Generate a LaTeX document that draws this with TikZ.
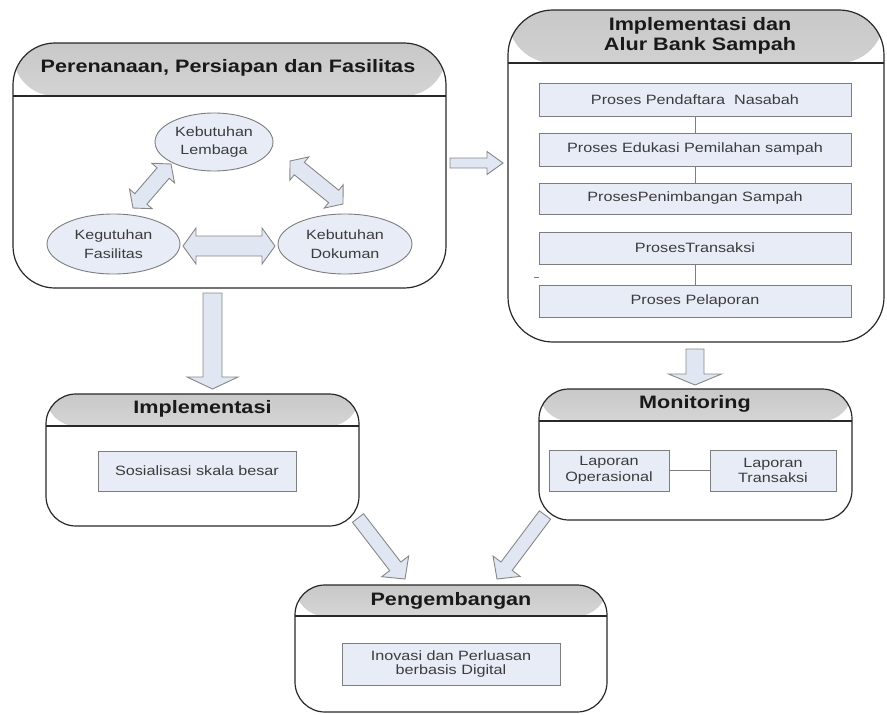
\documentclass[tikz,border=0pt]{standalone}
\usepackage{fontspec}
\setmainfont{Liberation Sans}[FakeStretch=1.2]
\usetikzlibrary{calc,shapes.geometric}
\definecolor{boxfill}{RGB}{231,236,246}
\definecolor{boxline}{RGB}{125,125,125}
\definecolor{arrfill}{RGB}{224,231,243}
\definecolor{arrline}{RGB}{135,135,135}
\definecolor{panline}{RGB}{40,40,40}
\definecolor{hdrtop}{RGB}{200,200,200}
\definecolor{hdrmid}{RGB}{236,236,236}
\definecolor{txt}{RGB}{60,60,60}
\newcommand\sarrow[5]{%
  \coordinate (hb) at ($(#2)!#5!(#1)$);
  \draw[blockarrow] ($(#1)!#3!90:(#2)$) -- ($(hb)!#3!90:(#2)$) -- ($(hb)!#4!90:(#2)$) -- (#2) -- ($(hb)!#4!-90:(#2)$) -- ($(hb)!#3!-90:(#2)$) -- ($(#1)!#3!-90:(#2)$) -- cycle;}
\newcommand\darrow[5]{%
  \coordinate (ha) at ($(#1)!#5!(#2)$);
  \coordinate (hb) at ($(#2)!#5!(#1)$);
  \draw[blockarrow] (#1) -- ($(ha)!#4!90:(#2)$) -- ($(ha)!#3!90:(#2)$) -- ($(hb)!#3!90:(#2)$) -- ($(hb)!#4!90:(#2)$) -- (#2) -- ($(hb)!#4!-90:(#2)$) -- ($(hb)!#3!-90:(#2)$) -- ($(ha)!#3!-90:(#2)$) -- ($(ha)!#4!-90:(#2)$) -- cycle;}
\begin{document}
\begin{tikzpicture}[x=1pt,y=-1pt,
  panel/.style={draw=panline, line width=1.2pt, fill=white, inner sep=0pt},
  panelhdr/.style={path picture={%
    \shade[top color=hdrtop,middle color=hdrmid,bottom color=white] (path picture bounding box.north west) rectangle ([yshift=-#1]path picture bounding box.north east);
    \draw[panline, line width=1.2pt] ([yshift=-#1]path picture bounding box.north west) -- ([yshift=-#1]path picture bounding box.north east);}},
  title/.style={font=\fontsize{18}{19.7}\selectfont\bfseries, text=black!90, align=center, inner sep=0pt},
  procbox/.style={draw=boxline, line width=1pt, fill=boxfill, inner sep=0pt, text=txt, align=center, font=\fontsize{13.5}{15.5}\selectfont},
  bubble/.style={ellipse, draw=boxline, line width=0.9pt, fill=boxfill, inner sep=0pt, text=txt, align=center, font=\fontsize{13.4}{18.5}\selectfont},
  link/.style={draw=boxline, line width=1pt},
  blockarrow/.style={fill=arrfill, draw=arrline, line width=0.9pt, line join=miter}]
\useasboundingbox (0,0) rectangle (887,715);
% ---------- panels
\node[panel, panelhdr=53pt, rounded corners=42pt, minimum width=433pt, minimum height=245pt] (p1) at (229.5,165.5) {};
\node[panel, panelhdr=53pt, rounded corners=45pt, minimum width=376pt, minimum height=332pt] (p2) at (696,176) {};
\node[panel, panelhdr=32pt, rounded corners=30pt, minimum width=313pt, minimum height=132pt] (p3) at (202.5,460) {};
\node[panel, panelhdr=32pt, rounded corners=30pt, minimum width=313pt, minimum height=131pt] (p4) at (695.5,454.5) {};
\node[panel, panelhdr=31pt, rounded corners=30pt, minimum width=312pt, minimum height=127pt] (p5) at (451,648.5) {};
% ---------- titles
\node[title] (t1) at (228,68) {Perenanaan, Persiapan dan Fasilitas};
\node[title] (t2) at (700,36) {Implementasi dan\\Alur Bank Sampah};
\node[title] (t3) at (202.5,409) {Implementasi};
\node[title] (t4) at (695,404) {Monitoring};
\node[title] (t5) at (451,601) {Pengembangan};
% ---------- panel 1 content
\node[bubble, minimum width=118pt, minimum height=58pt] (e1) at (214,142) {Kebutuhan\\Lembaga};
\node[bubble, minimum width=133pt, minimum height=60pt] (e2) at (113.5,244) {Kegutuhan\\Fasilitas};
\node[bubble, minimum width=134pt, minimum height=60pt] (e3) at (345,244) {Kebutuhan\\Dokuman};
\coordinate (h1a) at (183,246);
\coordinate (h1b) at (275,246);
\darrow{h1a}{h1b}{10pt}{18pt}{13pt}
\coordinate (l1a) at (133,208);
\coordinate (l1b) at (171,164);
\darrow{l1a}{l1b}{8pt}{15pt}{12pt}
\coordinate (r1a) at (290,161);
\coordinate (r1b) at (343,204);
\darrow{r1a}{r1b}{8pt}{15pt}{12pt}
% ---------- panel 2 content
\node[procbox, minimum width=312pt, minimum height=33pt] (b1) at (695,99.5) {Proses Pendaftara~~Nasabah};
\node[procbox, minimum width=312pt, minimum height=33pt] (b2) at (695,149.5) {Proses Edukasi Pemilahan sampah};
\node[procbox, minimum width=312pt, minimum height=31pt] (b3) at (695,198.5) {ProsesPenimbangan Sampah};
\node[procbox, minimum width=312pt, minimum height=32pt] (b4) at (695,248) {ProsesTransaksi};
\node[procbox, minimum width=312pt, minimum height=32pt] (b5) at (695,301) {Proses Pelaporan};
\draw[link] (b1) -- (b2);
\draw[link] (b2) -- (b3);
\draw[link] (b4) -- (b5);
\coordinate (m1a) at (534,277);
\coordinate (m1b) at (539,277);
\draw[link] (m1a) -- (m1b);
% ---------- panel 3..5 content
\node[procbox, minimum width=198pt, minimum height=40pt] (s1) at (197,471) {Sosialisasi skala besar};
\node[procbox, minimum width=120pt, minimum height=41pt] (lo) at (609,470.5) {Laporan\\Operasional};
\node[procbox, minimum width=126pt, minimum height=41pt] (lt) at (773,470.5) {Laporan\\Transaksi};
\draw[link] (lo) -- (lt);
\node[procbox, minimum width=218pt, minimum height=42pt, font=\fontsize{13.5}{14.7}\selectfont] (iv) at (451,664) {Inovasi dan Perluasan\\berbasis Digital};
% ---------- block arrows between panels
\coordinate (a1a) at (450,163);
\coordinate (a1b) at (503,163);
\sarrow{a1a}{a1b}{5pt}{11.5pt}{16pt}
\coordinate (a2a) at (212.5,293);
\coordinate (a2b) at (212.5,389);
\sarrow{a2a}{a2b}{9.5pt}{25.5pt}{12pt}
\coordinate (a3a) at (695,349);
\coordinate (a3b) at (695,385);
\sarrow{a3a}{a3b}{9pt}{26.5pt}{11pt}
\coordinate (a4a) at (358,518);
\coordinate (a4b) at (405,579);
\sarrow{a4a}{a4b}{7pt}{17pt}{16pt}
\coordinate (a5a) at (545,515);
\coordinate (a5b) at (497,579);
\sarrow{a5a}{a5b}{7pt}{17pt}{16pt}
\end{tikzpicture}
\end{document}
